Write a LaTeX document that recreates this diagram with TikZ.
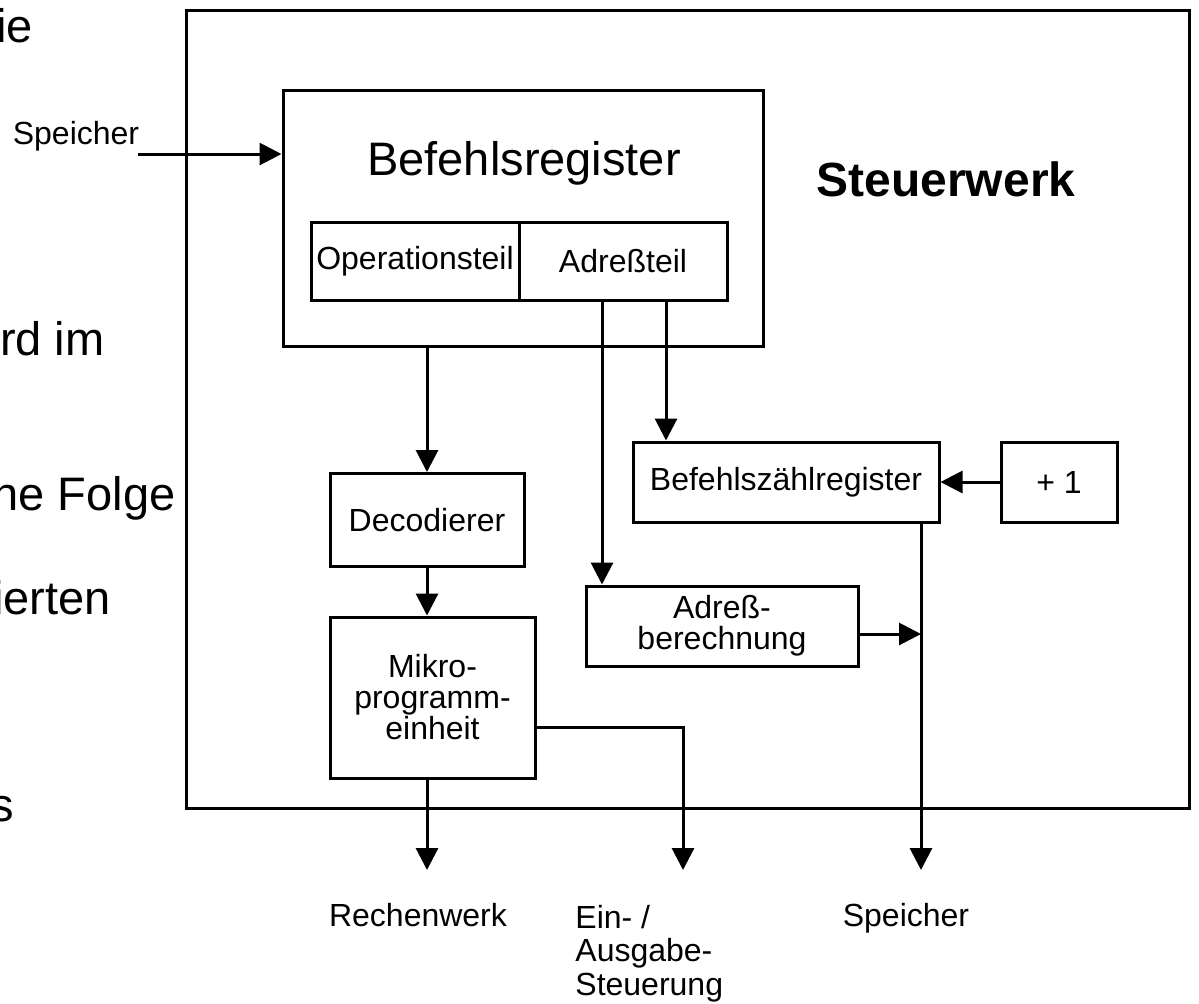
\documentclass[tikz,border=0pt]{standalone}
\usepackage{fontspec}
\setmainfont{Liberation Sans}
\usetikzlibrary{arrows.meta,positioning}

\begin{document}
\begin{tikzpicture}[x=0.5pt,y=-0.5pt,
  blk/.style={draw, line width=1.5pt, inner sep=0pt, align=center, font=\fontsize{16}{15.5}\selectfont},
  arr/.style={line width=1.5pt, -{Triangle[length=11pt,width=11pt]}},
  lbl/.style={inner sep=0pt, align=left, font=\fontsize{16}{16.75}\selectfont},
  big/.style={inner sep=0pt, font=\fontsize{23.5}{28}\selectfont}]
  \useasboundingbox (0,0) rectangle (1199,1003);

  \node[big, anchor=base east] (frag1) at (33,42) {ie};
  \node[big, anchor=base east] (frag2) at (105,355) {rd im};
  \node[big, anchor=base east] (frag3) at (176,510) {ne Folge};
  \node[big, anchor=base east] (frag4) at (111,614) {ierten};
  \node[big, anchor=base east] (frag5) at (14,821) {s};

  \node[blk, minimum width=501.5pt, minimum height=399pt] (steuerwerk) at (687.5,409) {};
  \node[big, anchor=base, font=\fontsize{24}{28}\selectfont\bfseries] (swtitle) at (946,196) {Steuerwerk};

  \node[blk, minimum width=240pt, minimum height=128pt] (befreg) at (523,218) {};
  \node[big, anchor=base] (brtitle) at (524,175) {Befehlsregister};
  \node[blk, minimum width=104pt, minimum height=39pt] (opteil) at (415,261) {Operationsteil};
  \node[blk, minimum width=104pt, minimum height=39pt] (adrteil) at (623,261) {Adreßteil};

  \node[blk, minimum width=97pt, minimum height=46.5pt] (decod) at (427,520) {Decodierer};
  \node[blk, minimum width=102.5pt, minimum height=80.5pt] (mikro) at (432.5,697.5) {Mikro-\\programm-\\einheit};
  \node[blk, minimum width=153pt, minimum height=40pt] (bzreg) at (786,482) {Befehlszählregister};
  \node[blk, minimum width=58pt, minimum height=40pt] (plus) at (1059,482) {+ 1};
  \node[blk, minimum width=136pt, minimum height=40pt] (adrber) at (722,626) {Adreß-\\berechnung};

  \node[lbl, anchor=base] (spin) at (76,144) {Speicher};
  \coordinate (spinend) at (138,154);
  \coordinate (t1) at (602,300);
  \coordinate (t2) at (666,300);
  \coordinate (rw) at (427,870);
  \coordinate (ea) at (683,870);
  \coordinate (sp) at (921,870);

  \draw[arr] (spinend) -- (spinend -| befreg.west);
  \draw[arr] (decod.north |- befreg.south) -- (decod.north);
  \draw[arr] (decod.south) -- (decod.south |- mikro.north);
  \draw[arr] (t1) -- (t1 |- adrber.north);
  \draw[arr] (t2) -- (t2 |- bzreg.north);
  \draw[arr] (plus.west) -- (bzreg.east);
  \draw[arr] ([yshift=-4pt]adrber.east) -- ([yshift=-4pt]adrber.east -| sp);
  \draw[arr] (sp |- bzreg.south) -- (sp);
  \draw[arr] (rw |- mikro.south) -- (rw);
  \draw[arr] ([yshift=-15pt]mikro.east) -| (ea);

  \node[lbl, anchor=base] (rwlabel) at (418,926) {Rechenwerk};
  \node[lbl, anchor=base west] (ealabel) at (575,995) {Ein- /\\Ausgabe-\\Steuerung};
  \node[lbl, anchor=base] (splabel) at (906,926) {Speicher};
\end{tikzpicture}
\end{document}
